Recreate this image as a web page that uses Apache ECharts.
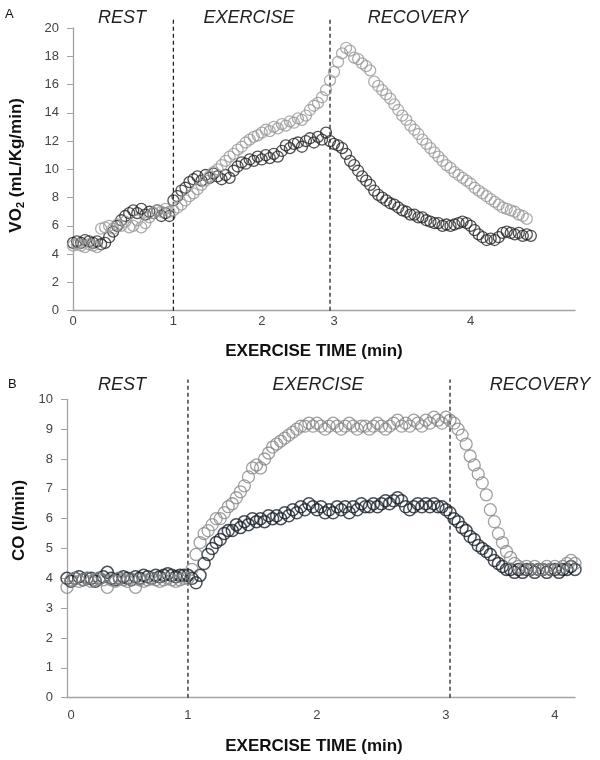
<!DOCTYPE html>
<html><head><meta charset="utf-8">
<script src="https://cdn.jsdelivr.net/npm/echarts@6/dist/echarts.min.js"></script>
<style>html,body{margin:0;padding:0;background:#fff}#c{width:600px;height:760px}</style>
</head><body><div id="c"></div>
<script>
// ---- Panel A: VO2 (mL/Kg/min), one value per sample (category index) ----
const vo2Black = [
 4.8,4.9,4.8,5.0,4.9,4.8,4.9,4.7,4.8,5.2,
 5.6,6.0,6.4,6.7,6.9,7.1,6.9,7.2,6.8,7.0,
 6.9,7.1,6.7,6.9,6.7,7.8,8.1,8.5,8.7,9.1,
 9.3,9.5,9.2,9.6,9.4,9.7,9.5,9.3,9.6,9.4,
 9.9,10.2,10.5,10.4,10.7,10.6,10.9,10.7,11.0,10.8,
 11.1,10.9,11.3,11.7,11.5,11.8,11.9,11.6,12.0,12.2,
 11.9,12.3,12.1,12.6,12.0,11.8,11.7,11.5,11.1,10.6,
 10.3,9.9,9.5,9.2,8.9,8.5,8.2,8.0,7.8,7.6,
 7.5,7.3,7.1,7.0,6.8,6.8,6.6,6.6,6.4,6.3,
 6.2,6.2,6.0,6.1,6.0,6.1,6.2,6.3,6.2,6.0,
 5.7,5.4,5.2,5.0,5.1,5.0,5.2,5.5,5.6,5.5,
 5.4,5.5,5.3,5.4,5.3
];
const vo2Gray = [
 4.6,4.7,4.6,4.5,4.7,4.6,4.5,5.8,5.9,6.0,
 5.8,6.1,6.0,6.3,5.9,6.0,6.4,5.9,6.2,6.6,
 6.9,7.1,7.0,7.2,7.0,7.1,7.3,7.5,7.8,8.1,
 8.3,8.6,8.9,9.2,9.5,9.8,10.0,10.3,10.6,10.9,
 11.1,11.4,11.6,11.9,12.1,12.3,12.4,12.6,12.8,12.7,
 13.0,12.9,13.2,13.1,13.4,13.3,13.6,13.5,13.8,14.2,
 14.5,14.7,15.1,15.6,16.3,16.9,17.6,18.2,18.6,18.4,
 17.9,17.8,17.5,17.3,17.0,16.2,15.9,15.6,15.3,15.0,
 14.6,14.2,13.8,13.5,13.1,12.8,12.5,12.1,11.8,11.5,
 11.2,10.9,10.6,10.3,10.1,9.8,9.6,9.4,9.2,9.0,
 8.7,8.5,8.3,8.1,7.9,7.7,7.5,7.3,7.2,7.1,
 7.0,6.8,6.7,6.5
];
// ---- Panel B: CO (l/min) ----
const coBlack = [
 4.0,3.9,4.0,4.05,3.95,4.0,4.0,3.9,4.0,4.05,
 4.2,4.0,3.95,4.0,4.05,4.0,3.95,4.05,4.0,4.1,
 4.05,4.0,4.1,4.05,4.1,4.15,4.1,4.05,4.1,4.1,
 4.1,4.0,3.85,4.1,4.5,4.8,5.0,5.2,5.3,5.5,
 5.6,5.6,5.8,5.7,5.9,5.8,6.0,5.9,6.0,5.9,
 6.1,6.0,6.1,6.0,6.2,6.1,6.3,6.2,6.4,6.3,
 6.5,6.4,6.3,6.4,6.2,6.3,6.2,6.4,6.3,6.4,
 6.2,6.4,6.3,6.5,6.4,6.4,6.5,6.4,6.5,6.6,
 6.5,6.6,6.7,6.6,6.4,6.3,6.4,6.5,6.4,6.5,
 6.4,6.5,6.4,6.4,6.3,6.2,6.0,5.9,5.7,5.6,
 5.4,5.3,5.1,5.0,4.9,4.8,4.6,4.5,4.4,4.3,
 4.3,4.2,4.3,4.2,4.3,4.3,4.2,4.3,4.3,4.2,
 4.3,4.3,4.2,4.3,4.3,4.4,4.3
];
const coGray = [
 3.7,3.95,4.0,3.9,3.95,4.0,3.9,3.95,4.0,3.95,
 3.7,3.95,3.9,4.0,3.95,3.9,3.95,3.7,3.95,3.9,
 3.95,4.0,3.95,3.9,3.95,4.0,3.95,3.9,3.95,4.0,
 4.0,4.3,4.8,5.2,5.5,5.6,5.8,6.0,6.0,6.2,
 6.4,6.5,6.7,6.9,7.1,7.4,7.7,7.8,7.7,8.0,
 8.2,8.4,8.5,8.6,8.7,8.8,8.9,9.0,9.1,9.1,
 9.2,9.1,9.2,9.1,9.0,9.1,9.2,9.1,9.0,9.1,
 9.2,9.1,9.0,9.1,9.1,9.0,9.1,9.2,9.1,9.0,
 9.1,9.2,9.3,9.1,9.2,9.1,9.3,9.2,9.1,9.3,
 9.2,9.4,9.3,9.2,9.4,9.3,9.2,9.0,8.8,8.5,
 8.1,7.8,7.5,7.2,6.8,6.3,5.9,5.5,5.2,4.9,
 4.7,4.5,4.4,4.3,4.4,4.3,4.4,4.3,4.3,4.4,
 4.3,4.4,4.3,4.4,4.5,4.6,4.5
];
// sample counts on each category axis
const nSamplesA = 126;
const nSamplesB = 127;
// time tick labels and the sample index where each minute falls
const xTickLabelsA = ['0','1','2','3','4'];
const xTickIndexA  = [0,25,47,65,99];
const xTickLabelsB = ['0','1','2','3','4'];
const xTickIndexB  = [1,30,62,94,121];
// phase boundaries (sample index) and phase names
const phaseNames = ['REST','EXERCISE','RECOVERY'];
const phaseBoundA = [25,64];
const phaseBoundB = [30,95];
const dashTopA = 20.7, dashTopB = 10.66;

const FF = '"Liberation Sans", Arial, sans-serif';
const axisGray = '#a3a3a3';
const labelCol = '#444';

function cats(n){ return Array.from({length:n},(_,i)=>String(i)); }

function xAxisCfg(gi, n, idx, labels, margin, nameGap, namePad){
  return {
    type:'category', gridIndex:gi, data:cats(n), boundaryGap:false,
    axisLine:{lineStyle:{color:axisGray,width:1.3}},
    axisTick:{show:false}, splitLine:{show:false},
    axisLabel:{interval:(i)=>idx.indexOf(i)>=0,
      formatter:(v)=>{const k=idx.indexOf(Number(v));return k>=0?labels[k]:'';},
      color:labelCol,fontSize:13,margin:margin,fontFamily:FF},
    name:'EXERCISE TIME (min)', nameLocation:'middle', nameGap:nameGap,
    nameTextStyle:{fontWeight:'bold',fontSize:17,color:'#111',fontFamily:FF,padding:namePad}
  };
}
function yAxisCfg(gi, max, interval, name, nameGap, namePad){
  return {
    type:'value', gridIndex:gi, min:0, max:max, interval:interval,
    axisLine:{show:true,lineStyle:{color:axisGray,width:1.3}},
    axisTick:{show:true,length:6,lineStyle:{color:axisGray}},
    splitLine:{show:false},
    axisLabel:{color:labelCol,fontSize:13,margin:14,fontFamily:FF},
    name:name, nameLocation:'middle', nameGap:nameGap,
    nameTextStyle:{fontWeight:'bold',fontSize:17,color:'#111',fontFamily:FF,padding:namePad,
      rich:{a:{fontWeight:'bold',fontSize:17,color:'#111',fontFamily:FF},
            s:{fontWeight:'bold',fontSize:11,color:'#111',fontFamily:FF,verticalAlign:'bottom',padding:[8,0,0,0]}}}
  };
}
function scatter(xi, data, color, size, bw){
  return {type:'scatter', xAxisIndex:xi, yAxisIndex:xi, data:data, symbol:'circle', symbolSize:size,
    itemStyle:{color:'rgba(0,0,0,0)', borderColor:color, borderWidth:bw}, silent:true, animation:false};
}
function dashLine(xi, idx, top){
  return {type:'line', xAxisIndex:xi, yAxisIndex:xi, data:[[idx,0],[idx,top]], symbol:'none', clip:false,
    silent:true, animation:false, lineStyle:{type:[4,3],color:'#222',width:1.3}, z:1};
}
function phaseText(x, y, t){
  return {type:'text', x:x, y:y, style:{text:t, font:'italic 18px '+FF, fill:'#222',
    align:'center', verticalAlign:'middle', textAlign:'center', textVerticalAlign:'middle'}};
}

const chart = echarts.init(document.getElementById('c'), null, {renderer:'canvas'});
chart.setOption({
  animation:false,
  backgroundColor:'#fff',
  grid:[
    {left:72, right:25, top:28, height:282.7},
    {left:67, right:25, top:399.3, height:298.4}
  ],
  xAxis:[
    xAxisCfg(0, nSamplesA, xTickIndexA, xTickLabelsA, 4, 32, [0,20,0,0]),
    xAxisCfg(1, nSamplesB, xTickIndexB, xTickLabelsB, 11, 40, [0,14,0,0])
  ],
  yAxis:[
    yAxisCfg(0, 20, 2, '{a|VO}{s|2}{a| (mL/Kg/min)}', 47, [0,0,0,8]),
    yAxisCfg(1, 10, 1, 'CO (l/min)', 37, [0,0,0,56])
  ],
  series:[
    dashLine(0, phaseBoundA[0], dashTopA),
    dashLine(0, phaseBoundA[1], dashTopA),
    dashLine(1, phaseBoundB[0], dashTopB),
    dashLine(1, phaseBoundB[1], dashTopB),
    scatter(0, vo2Black, '#262626', 11, 1.3),
    scatter(0, vo2Gray, '#999999', 11, 1.3),
    scatter(1, coBlack, '#1a232d', 12, 1.5),
    scatter(1, coGray, '#878787', 12, 1.3)
  ],
  graphic:[
    {type:'text', x:5, y:8, style:{text:'A', font:'13px '+FF, fill:'#111'}},
    {type:'text', x:8, y:378, style:{text:'B', font:'13px '+FF, fill:'#111'}},
    phaseText(122, 18, phaseNames[0]),
    phaseText(249, 18, phaseNames[1]),
    phaseText(418, 18, phaseNames[2]),
    phaseText(122, 385, phaseNames[0]),
    phaseText(318, 385, phaseNames[1]),
    phaseText(540, 385, phaseNames[2])
  ]
});
</script></body></html>
